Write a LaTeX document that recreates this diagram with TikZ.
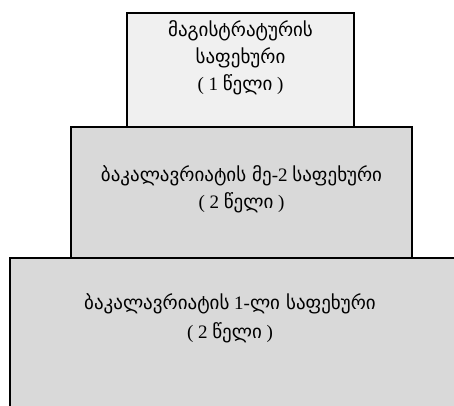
\documentclass[tikz,border=0pt]{standalone}
\usepackage{fontspec}
\setmainfont{Liberation Serif}
\newfontfamily\geo{DejaVu Sans}
\usepackage{tikz}
\usetikzlibrary{positioning}

\begin{document}
\begin{tikzpicture}[x=1pt, y=-1pt]
\tikzstyle{stage}=[draw=black, line width=1.5pt, fill=black!15, inner sep=0pt]
\tikzstyle{stagetext}=[align=center, font=\fontsize{19}{27}\selectfont, inner sep=0pt]

\useasboundingbox (0,0) rectangle (454,405);
\clip (0,0) rectangle (454,405);

% stages
\node (bachone) [stage, minimum width=448pt, minimum height=154pt] at (234,335) {};
\node (bachtwo) [stage, minimum width=341pt, minimum height=131pt] at (241.5,192.5) {};
\node (master) [stage, fill=black!6, minimum width=227pt, minimum height=114pt] at (240.5,70) {};

% texts
\node (mastertxt) [stagetext, below=8pt of master.north] {{\geo მაგისტრატურის}\\{\geo საფეხური}\\( 1 {\geo წელი} )};
\node (bachtwotxt) [stagetext, below=39pt of bachtwo.north] {{\geo ბაკალავრიატის მე}-2 {\geo საფეხური}\\( 2 {\geo წელი} )};
\node (bachonetxt) [stagetext, below=36pt of bachone.north, xshift=-4pt] {{\geo ბაკალავრიატის} 1-{\geo ლი საფეხური}\\[2pt]( 2 {\geo წელი} )};

\end{tikzpicture}
\end{document}
